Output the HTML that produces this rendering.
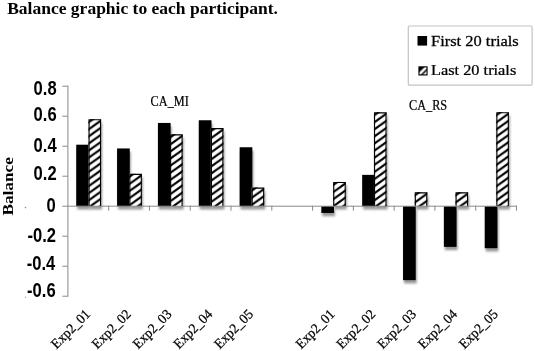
<!DOCTYPE html>
<html><head><meta charset="utf-8"><style>
html,body{margin:0;padding:0;background:#fff;}
body{width:535px;height:351px;overflow:hidden;position:relative;}
svg{position:absolute;left:0;top:0;will-change:transform;}
text{font-family:"Liberation Serif",serif;}
</style></head><body>
<svg width="535" height="351" viewBox="0 0 535 351">
<defs>
<filter id="sh" x="-50%" y="-50%" width="200%" height="200%"><feGaussianBlur stdDeviation="1.05"/></filter>

<pattern id="p0" patternUnits="userSpaceOnUse" x="88.50" y="122.39" width="9.9" height="7.1"><path d="M-9.9,14.2 L19.8,-7.1 M-9.9,7.1 L19.8,-14.2 M-9.9,21.299999999999997 L19.8,0" stroke="#000" stroke-width="2.1"/></pattern>
<pattern id="p1" patternUnits="userSpaceOnUse" x="129.28" y="176.99" width="9.9" height="7.1"><path d="M-9.9,14.2 L19.8,-7.1 M-9.9,7.1 L19.8,-14.2 M-9.9,21.299999999999997 L19.8,0" stroke="#000" stroke-width="2.1"/></pattern>
<pattern id="p2" patternUnits="userSpaceOnUse" x="170.06" y="137.54" width="9.9" height="7.1"><path d="M-9.9,14.2 L19.8,-7.1 M-9.9,7.1 L19.8,-14.2 M-9.9,21.299999999999997 L19.8,0" stroke="#000" stroke-width="2.1"/></pattern>
<pattern id="p3" patternUnits="userSpaceOnUse" x="210.84" y="131.24" width="9.9" height="7.1"><path d="M-9.9,14.2 L19.8,-7.1 M-9.9,7.1 L19.8,-14.2 M-9.9,21.299999999999997 L19.8,0" stroke="#000" stroke-width="2.1"/></pattern>
<pattern id="p4" patternUnits="userSpaceOnUse" x="251.62" y="190.79" width="9.9" height="7.1"><path d="M-9.9,14.2 L19.8,-7.1 M-9.9,7.1 L19.8,-14.2 M-9.9,21.299999999999997 L19.8,0" stroke="#000" stroke-width="2.1"/></pattern>
<pattern id="p6" patternUnits="userSpaceOnUse" x="333.18" y="185.09" width="9.9" height="7.1"><path d="M-9.9,14.2 L19.8,-7.1 M-9.9,7.1 L19.8,-14.2 M-9.9,21.299999999999997 L19.8,0" stroke="#000" stroke-width="2.1"/></pattern>
<pattern id="p7" patternUnits="userSpaceOnUse" x="373.96" y="115.49" width="9.9" height="7.1"><path d="M-9.9,14.2 L19.8,-7.1 M-9.9,7.1 L19.8,-14.2 M-9.9,21.299999999999997 L19.8,0" stroke="#000" stroke-width="2.1"/></pattern>
<pattern id="p8" patternUnits="userSpaceOnUse" x="414.74" y="195.44" width="9.9" height="7.1"><path d="M-9.9,14.2 L19.8,-7.1 M-9.9,7.1 L19.8,-14.2 M-9.9,21.299999999999997 L19.8,0" stroke="#000" stroke-width="2.1"/></pattern>
<pattern id="p9" patternUnits="userSpaceOnUse" x="455.52" y="195.44" width="9.9" height="7.1"><path d="M-9.9,14.2 L19.8,-7.1 M-9.9,7.1 L19.8,-14.2 M-9.9,21.299999999999997 L19.8,0" stroke="#000" stroke-width="2.1"/></pattern>
<pattern id="p10" patternUnits="userSpaceOnUse" x="496.30" y="115.34" width="9.9" height="7.1"><path d="M-9.9,14.2 L19.8,-7.1 M-9.9,7.1 L19.8,-14.2 M-9.9,21.299999999999997 L19.8,0" stroke="#000" stroke-width="2.1"/></pattern>
<pattern id="pl" patternUnits="userSpaceOnUse" x="418.5" y="66.4" width="9" height="9"><path d="M-2,10.7 L10.7,-2 M2,12.6 L12.6,2" stroke="#fff" stroke-width="2.6"/></pattern>
</defs>
<text x="7.2" y="13.5" font-weight="bold" font-size="17.5" fill="#000">Balance graphic to each participant.</text>
<text transform="translate(13.4,215.6) rotate(-90) scale(1.215,1)" font-weight="bold" font-size="14.2" fill="#000">Balance</text>
<rect x="77.23" y="148.00" width="12.70" height="61.50" fill="#999" filter="url(#sh)"/>
<rect x="89.50" y="122.50" width="12.60" height="87.00" fill="#999" filter="url(#sh)"/>
<rect x="118.08" y="151.75" width="12.70" height="57.75" fill="#999" filter="url(#sh)"/>
<rect x="130.28" y="177.10" width="12.60" height="32.40" fill="#999" filter="url(#sh)"/>
<rect x="158.93" y="126.25" width="12.70" height="83.25" fill="#999" filter="url(#sh)"/>
<rect x="171.06" y="137.65" width="12.60" height="71.85" fill="#999" filter="url(#sh)"/>
<rect x="199.78" y="123.55" width="12.70" height="85.95" fill="#999" filter="url(#sh)"/>
<rect x="211.84" y="131.35" width="12.60" height="78.15" fill="#999" filter="url(#sh)"/>
<rect x="240.63" y="150.55" width="12.70" height="58.95" fill="#999" filter="url(#sh)"/>
<rect x="252.62" y="190.90" width="12.60" height="18.60" fill="#999" filter="url(#sh)"/>
<rect x="322.33" y="209.50" width="12.70" height="6.75" fill="#999" filter="url(#sh)"/>
<rect x="334.18" y="185.20" width="12.60" height="24.30" fill="#999" filter="url(#sh)"/>
<rect x="363.18" y="178.15" width="12.70" height="31.35" fill="#999" filter="url(#sh)"/>
<rect x="374.96" y="115.60" width="12.60" height="93.90" fill="#999" filter="url(#sh)"/>
<rect x="404.03" y="209.50" width="12.70" height="73.95" fill="#999" filter="url(#sh)"/>
<rect x="415.74" y="195.55" width="12.60" height="13.95" fill="#999" filter="url(#sh)"/>
<rect x="444.88" y="209.50" width="12.70" height="40.65" fill="#999" filter="url(#sh)"/>
<rect x="456.52" y="195.55" width="12.60" height="13.95" fill="#999" filter="url(#sh)"/>
<rect x="485.73" y="209.50" width="12.70" height="42.00" fill="#999" filter="url(#sh)"/>
<rect x="497.30" y="115.45" width="12.60" height="94.05" fill="#999" filter="url(#sh)"/>
<rect x="76.23" y="144.70" width="12.70" height="61.50" fill="#000"/>
<rect x="88.50" y="119.20" width="12.60" height="87.00" fill="#fff"/>
<rect x="88.50" y="119.20" width="12.60" height="87.00" fill="url(#p0)"/>
<path d="M89.08,206.20 L89.08,119.77 L100.52,119.77 L100.52,206.20" fill="none" stroke="#000" stroke-width="1.15"/>
<rect x="117.08" y="148.45" width="12.70" height="57.75" fill="#000"/>
<rect x="129.28" y="173.80" width="12.60" height="32.40" fill="#fff"/>
<rect x="129.28" y="173.80" width="12.60" height="32.40" fill="url(#p1)"/>
<path d="M129.85,206.20 L129.85,174.37 L141.31,174.37 L141.31,206.20" fill="none" stroke="#000" stroke-width="1.15"/>
<rect x="157.93" y="122.95" width="12.70" height="83.25" fill="#000"/>
<rect x="170.06" y="134.35" width="12.60" height="71.85" fill="#fff"/>
<rect x="170.06" y="134.35" width="12.60" height="71.85" fill="url(#p2)"/>
<path d="M170.63,206.20 L170.63,134.92 L182.09,134.92 L182.09,206.20" fill="none" stroke="#000" stroke-width="1.15"/>
<rect x="198.78" y="120.25" width="12.70" height="85.95" fill="#000"/>
<rect x="210.84" y="128.05" width="12.60" height="78.15" fill="#fff"/>
<rect x="210.84" y="128.05" width="12.60" height="78.15" fill="url(#p3)"/>
<path d="M211.41,206.20 L211.41,128.62 L222.87,128.62 L222.87,206.20" fill="none" stroke="#000" stroke-width="1.15"/>
<rect x="239.63" y="147.25" width="12.70" height="58.95" fill="#000"/>
<rect x="251.62" y="187.60" width="12.60" height="18.60" fill="#fff"/>
<rect x="251.62" y="187.60" width="12.60" height="18.60" fill="url(#p4)"/>
<path d="M252.19,206.20 L252.19,188.17 L263.65,188.17 L263.65,206.20" fill="none" stroke="#000" stroke-width="1.15"/>
<rect x="321.33" y="206.20" width="12.70" height="6.75" fill="#000"/>
<rect x="333.18" y="181.90" width="12.60" height="24.30" fill="#fff"/>
<rect x="333.18" y="181.90" width="12.60" height="24.30" fill="url(#p6)"/>
<path d="M333.75,206.20 L333.75,182.47 L345.21,182.47 L345.21,206.20" fill="none" stroke="#000" stroke-width="1.15"/>
<rect x="362.18" y="174.85" width="12.70" height="31.35" fill="#000"/>
<rect x="373.96" y="112.30" width="12.60" height="93.90" fill="#fff"/>
<rect x="373.96" y="112.30" width="12.60" height="93.90" fill="url(#p7)"/>
<path d="M374.54,206.20 L374.54,112.87 L385.99,112.87 L385.99,206.20" fill="none" stroke="#000" stroke-width="1.15"/>
<rect x="403.03" y="206.20" width="12.70" height="73.95" fill="#000"/>
<rect x="414.74" y="192.25" width="12.60" height="13.95" fill="#fff"/>
<rect x="414.74" y="192.25" width="12.60" height="13.95" fill="url(#p8)"/>
<path d="M415.31,206.20 L415.31,192.82 L426.77,192.82 L426.77,206.20" fill="none" stroke="#000" stroke-width="1.15"/>
<rect x="443.88" y="206.20" width="12.70" height="40.65" fill="#000"/>
<rect x="455.52" y="192.25" width="12.60" height="13.95" fill="#fff"/>
<rect x="455.52" y="192.25" width="12.60" height="13.95" fill="url(#p9)"/>
<path d="M456.09,206.20 L456.09,192.82 L467.55,192.82 L467.55,206.20" fill="none" stroke="#000" stroke-width="1.15"/>
<rect x="484.73" y="206.20" width="12.70" height="42.00" fill="#000"/>
<rect x="496.30" y="112.15" width="12.60" height="94.05" fill="#fff"/>
<rect x="496.30" y="112.15" width="12.60" height="94.05" fill="url(#p10)"/>
<path d="M496.88,206.20 L496.88,112.72 L508.33,112.72 L508.33,206.20" fill="none" stroke="#000" stroke-width="1.15"/>
<rect x="67.4" y="85.70" width="1" height="211.00" fill="#8a8a8a"/>
<rect x="62.3" y="85.70" width="5.60" height="1" fill="#8a8a8a"/>
<rect x="62.3" y="115.70" width="5.60" height="1" fill="#8a8a8a"/>
<rect x="62.3" y="145.70" width="5.60" height="1" fill="#8a8a8a"/>
<rect x="62.3" y="175.70" width="5.60" height="1" fill="#8a8a8a"/>
<rect x="62.3" y="205.70" width="5.60" height="1" fill="#8a8a8a"/>
<rect x="62.3" y="235.70" width="5.60" height="1" fill="#8a8a8a"/>
<rect x="62.3" y="265.70" width="5.60" height="1" fill="#8a8a8a"/>
<rect x="62.3" y="295.70" width="5.60" height="1" fill="#8a8a8a"/>
<rect x="67.9" y="205.7" width="449.08" height="1" fill="#8a8a8a"/>
<rect x="108.18" y="205.7" width="1" height="5" fill="#8a8a8a"/>
<rect x="148.96" y="205.7" width="1" height="5" fill="#8a8a8a"/>
<rect x="189.74" y="205.7" width="1" height="5" fill="#8a8a8a"/>
<rect x="230.52" y="205.7" width="1" height="5" fill="#8a8a8a"/>
<rect x="271.30" y="205.7" width="1" height="5" fill="#8a8a8a"/>
<rect x="312.08" y="205.7" width="1" height="5" fill="#8a8a8a"/>
<rect x="352.86" y="205.7" width="1" height="5" fill="#8a8a8a"/>
<rect x="393.64" y="205.7" width="1" height="5" fill="#8a8a8a"/>
<rect x="434.42" y="205.7" width="1" height="5" fill="#8a8a8a"/>
<rect x="475.20" y="205.7" width="1" height="5" fill="#8a8a8a"/>
<rect x="515.98" y="205.7" width="1" height="5" fill="#8a8a8a"/>
<text transform="translate(56.6,94.70) scale(0.85,1)" text-anchor="end" style="font-family:'Liberation Sans',sans-serif" font-weight="bold" font-size="19.5" fill="#000">0.8</text>
<text transform="translate(56.6,120.90) scale(0.85,1)" text-anchor="end" style="font-family:'Liberation Sans',sans-serif" font-weight="bold" font-size="19.5" fill="#000">0.6</text>
<text transform="translate(56.6,152.40) scale(0.85,1)" text-anchor="end" style="font-family:'Liberation Sans',sans-serif" font-weight="bold" font-size="19.5" fill="#000">0.4</text>
<text transform="translate(56.6,180.20) scale(0.85,1)" text-anchor="end" style="font-family:'Liberation Sans',sans-serif" font-weight="bold" font-size="19.5" fill="#000">0.2</text>
<text transform="translate(55.6,212.35) scale(0.85,1)" text-anchor="end" style="font-family:'Liberation Sans',sans-serif" font-weight="bold" font-size="19.5" fill="#000">0</text>
<text transform="translate(56.0,242.35) scale(0.85,1)" text-anchor="end" style="font-family:'Liberation Sans',sans-serif" font-weight="bold" font-size="19.5" fill="#000">-0.2</text>
<text transform="translate(55.3,270.10) scale(0.85,1)" text-anchor="end" style="font-family:'Liberation Sans',sans-serif" font-weight="bold" font-size="19.5" fill="#000">-0.4</text>
<text transform="translate(55.6,296.90) scale(0.85,1)" text-anchor="end" style="font-family:'Liberation Sans',sans-serif" font-weight="bold" font-size="19.5" fill="#000">-0.6</text>
<text transform="translate(150.6,106.4) scale(0.895,1)" font-size="13.7" fill="#000" stroke="#000" stroke-width="0.25">CA_MI</text>
<text transform="translate(409.0,109.6) scale(0.895,1)" font-size="13.7" fill="#000" stroke="#000" stroke-width="0.25">CA_RS</text>
<text transform="translate(90.89,315.1) rotate(-45) scale(0.96,1)" text-anchor="end" font-size="14" fill="#000" stroke="#000" stroke-width="0.25">Exp2_01</text>
<text transform="translate(131.67,315.1) rotate(-45) scale(0.96,1)" text-anchor="end" font-size="14" fill="#000" stroke="#000" stroke-width="0.25">Exp2_02</text>
<text transform="translate(172.45,315.1) rotate(-45) scale(0.96,1)" text-anchor="end" font-size="14" fill="#000" stroke="#000" stroke-width="0.25">Exp2_03</text>
<text transform="translate(213.23,315.1) rotate(-45) scale(0.96,1)" text-anchor="end" font-size="14" fill="#000" stroke="#000" stroke-width="0.25">Exp2_04</text>
<text transform="translate(254.01,315.1) rotate(-45) scale(0.96,1)" text-anchor="end" font-size="14" fill="#000" stroke="#000" stroke-width="0.25">Exp2_05</text>
<text transform="translate(335.57,315.1) rotate(-45) scale(0.96,1)" text-anchor="end" font-size="14" fill="#000" stroke="#000" stroke-width="0.25">Exp2_01</text>
<text transform="translate(376.35,315.1) rotate(-45) scale(0.96,1)" text-anchor="end" font-size="14" fill="#000" stroke="#000" stroke-width="0.25">Exp2_02</text>
<text transform="translate(417.13,315.1) rotate(-45) scale(0.96,1)" text-anchor="end" font-size="14" fill="#000" stroke="#000" stroke-width="0.25">Exp2_03</text>
<text transform="translate(457.91,315.1) rotate(-45) scale(0.96,1)" text-anchor="end" font-size="14" fill="#000" stroke="#000" stroke-width="0.25">Exp2_04</text>
<text transform="translate(498.69,315.1) rotate(-45) scale(0.96,1)" text-anchor="end" font-size="14" fill="#000" stroke="#000" stroke-width="0.25">Exp2_05</text>
<rect x="408.3" y="26" width="123.8" height="59.2" rx="1" fill="none" stroke="#c4c4c4" stroke-width="1.2"/>
<rect x="417.5" y="36" width="9.6" height="9.6" fill="#000"/>
<rect x="418.4" y="66.3" width="9.2" height="9.2" fill="#000"/>
<rect x="419.5" y="67.4" width="7" height="7" fill="url(#pl)"/>
<text transform="translate(431.0,45.5) scale(1.16,1)" font-size="14.2" fill="#000" stroke="#000" stroke-width="0.25">First 20 trials</text>
<text transform="translate(431.0,75.4) scale(1.15,1)" font-size="14.2" fill="#000" stroke="#000" stroke-width="0.25">Last 20 trials</text>
<circle cx="25.5" cy="207.6" r="0.8" fill="#8a8a8a"/>
<circle cx="25.5" cy="297.3" r="0.7" fill="#aaaaaa"/>
</svg></body></html>
